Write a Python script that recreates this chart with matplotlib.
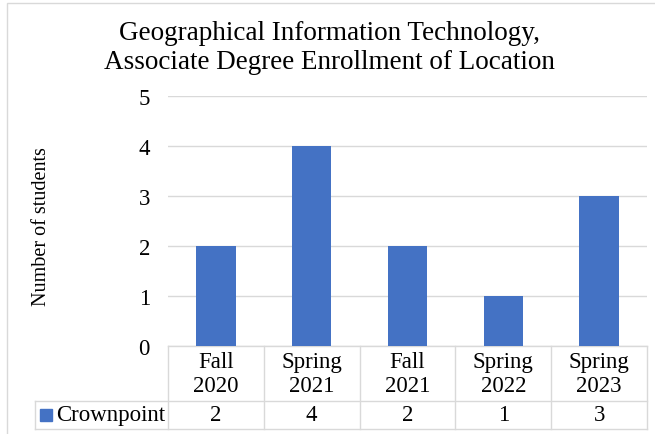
import matplotlib

matplotlib.use("Agg")
import matplotlib.pyplot as plt
from matplotlib.patches import Rectangle

plt.rcParams["font.family"] = ["Liberation Serif", "DejaVu Serif"]

TITLE = "Geographical Information Technology,\nAssociate Degree Enrollment of Location"
categories = ["Fall\n2020", "Spring\n2021", "Fall\n2021", "Spring\n2022", "Spring\n2023"]
series_name = "Crownpoint"
values = [2, 4, 2, 1, 3]

BAR_COLOR = "#4472c4"
GRID_COLOR = "#d9d9d9"
W, H = 655, 435
FS = 16.5

fig = plt.figure(figsize=(W / 100, H / 100), dpi=100)

# plot area in pixel coords of the reference
left, right, top, bottom = 168, 647, 97, 347
ax = fig.add_axes([left / W, 1 - bottom / H, (right - left) / W, (bottom - top) / H])

x = list(range(len(categories)))
ax.bar(x, values, width=0.41, color=BAR_COLOR, zorder=3)
ax.set_xlim(-0.5, len(categories) - 0.5)
ax.set_ylim(0, 5)
ax.set_yticks(range(0, 6))
ax.tick_params(axis="y", length=0, labelsize=FS, pad=13)
ax.set_xticks([])
ax.grid(axis="y", color=GRID_COLOR, linewidth=1, zorder=0)
for s in ax.spines.values():
    s.set_visible(False)

fig.text(42 / W, 1 - 227 / H, "Number of students", rotation=90, ha="center",
         va="center", fontsize=14.5)
fig.text(0.5 + 2 / W, 1 - 48 / H, TITLE, ha="center", va="center",
         fontsize=19.5, linespacing=1.2)

# data table below the axes, in axes-relative coords
ph = bottom - top
row1 = (402 - bottom) / ph   # header row height
row2 = (430 - 402) / ph      # data row height
legend_left = (35 - left) / (right - left)
tkw = dict(transform=ax.transAxes, clip_on=False, color=GRID_COLOR, linewidth=1)
n = len(categories)
# horizontal lines
ax.plot([0, 1], [0, 0], **tkw)
ax.plot([legend_left, 1], [-row1, -row1], **tkw)
ax.plot([legend_left, 1], [-row1 - row2, -row1 - row2], **tkw)
# vertical lines
for i in range(n + 1):
    ax.plot([i / n, i / n], [0, -row1 - row2], **tkw)
ax.plot([legend_left, legend_left], [-row1, -row1 - row2], **tkw)

for i, (cat, v) in enumerate(zip(categories, values)):
    cx = (i + 0.5) / n
    ax.text(cx, -row1 / 2, cat, transform=ax.transAxes, ha="center", va="center",
            fontsize=FS, linespacing=1.15)
    ax.text(cx, -row1 - row2 / 2, str(v), transform=ax.transAxes, ha="center",
            va="center", fontsize=FS)

# legend key inside the table
kx = (40 - left) / (right - left)
ax.add_patch(Rectangle((kx, -(416 + 6 - bottom) / ph), 12 / (right - left), 12 / ph,
                       transform=ax.transAxes, clip_on=False, color=BAR_COLOR))
ax.text((56 - left) / (right - left), -row1 - row2 / 2, series_name,
        transform=ax.transAxes, ha="left", va="center", fontsize=FS)

# chart border
fig.add_artist(Rectangle((7 / W, -0.01), 1.02, 1 - 4 / H + 0.01, transform=fig.transFigure,
                         fill=False, edgecolor=GRID_COLOR, linewidth=1))

fig.savefig("out.png", dpi=100)
